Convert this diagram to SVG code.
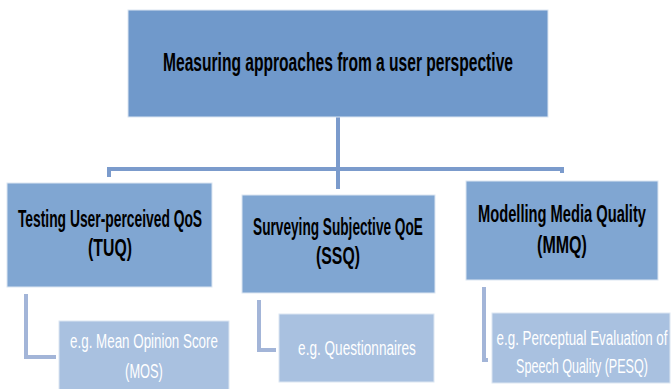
<svg xmlns="http://www.w3.org/2000/svg" width="671" height="389" viewBox="0 0 671 389">
<style>
.bg{fill:#ffffff}
.top{fill:#7099CB;stroke:#DCE6F2;stroke-width:1}
.mid{fill:#80A6D2;stroke:#DCE6F2;stroke-width:1}
.sub{fill:#A9C1E0;stroke:#DCE6F2;stroke-width:1}
.t{font-family:"Liberation Sans",Arial,sans-serif;font-weight:bold;fill:#000;text-anchor:middle}
.w{font-family:"Liberation Sans",Arial,sans-serif;fill:#fff;text-anchor:middle}
.c1{fill:none;stroke:#7B9BCC;stroke-width:4}
.c2{fill:none;stroke:#A3B5D8;stroke-width:4}
</style>
<rect class="bg" x="0" y="0" width="671" height="389"/>
<g id="connectors">
<path class="c1" d="M338,117 V189"/>
<path class="c1" d="M109,177 V169 H562 V173"/>
<path class="c2" d="M26,294 V357 H56"/>
<path class="c2" d="M259,300 V350 H276"/>
<path class="c2" d="M484,287 V360 H488"/>
</g>
<g id="root">
<rect class="top" x="128" y="10" width="420" height="107"/>
<text class="t" transform="translate(338,71) scale(0.54,1)" x="0" y="0" font-size="26" textLength="648" lengthAdjust="spacingAndGlyphs">Measuring approaches from a user perspective</text>
</g>
<g id="tuq">
<rect class="mid" x="7" y="183" width="205" height="104"/>
<text class="t" transform="translate(110,227) scale(0.6,1)" x="0" y="0" font-size="24" textLength="307" lengthAdjust="spacingAndGlyphs">Testing User-perceived QoS</text>
<text class="t" transform="translate(110,256) scale(0.6,1)" x="0" y="0" font-size="24" textLength="73" lengthAdjust="spacingAndGlyphs">(TUQ)</text>
</g>
<g id="ssq">
<rect class="mid" x="242" y="195" width="193" height="98"/>
<text class="t" transform="translate(338,235) scale(0.6,1)" x="0" y="0" font-size="24" textLength="283" lengthAdjust="spacingAndGlyphs">Surveying Subjective QoE</text>
<text class="t" transform="translate(338,264) scale(0.6,1)" x="0" y="0" font-size="24" textLength="73" lengthAdjust="spacingAndGlyphs">(SSQ)</text>
</g>
<g id="mmq">
<rect class="mid" x="466" y="181" width="192" height="99"/>
<text class="t" transform="translate(562,222) scale(0.6,1)" x="0" y="0" font-size="24" textLength="280" lengthAdjust="spacingAndGlyphs">Modelling Media Quality</text>
<text class="t" transform="translate(562,253) scale(0.6,1)" x="0" y="0" font-size="24" textLength="83" lengthAdjust="spacingAndGlyphs">(MMQ)</text>
</g>
<g id="mos">
<rect class="sub" x="59" y="321" width="170" height="70"/>
<text class="w" transform="translate(144,348) scale(0.64,1)" x="0" y="0" font-size="20" textLength="231" lengthAdjust="spacingAndGlyphs">e.g. Mean Opinion Score</text>
<text class="w" transform="translate(144,378) scale(0.64,1)" x="0" y="0" font-size="20" textLength="59" lengthAdjust="spacingAndGlyphs">(MOS)</text>
</g>
<g id="questionnaires">
<rect class="sub" x="279" y="314" width="155" height="68"/>
<text class="w" transform="translate(357,355) scale(0.64,1)" x="0" y="0" font-size="20" textLength="184" lengthAdjust="spacingAndGlyphs">e.g. Questionnaires</text>
</g>
<g id="pesq">
<rect class="sub" x="492" y="313" width="178" height="70"/>
<text class="w" transform="translate(582,345) scale(0.64,1)" x="0" y="0" font-size="20" textLength="267" lengthAdjust="spacingAndGlyphs">e.g. Perceptual Evaluation of</text>
<text class="w" transform="translate(582,373) scale(0.64,1)" x="0" y="0" font-size="20" textLength="206" lengthAdjust="spacingAndGlyphs">Speech Quality (PESQ)</text>
</g>
</svg>
